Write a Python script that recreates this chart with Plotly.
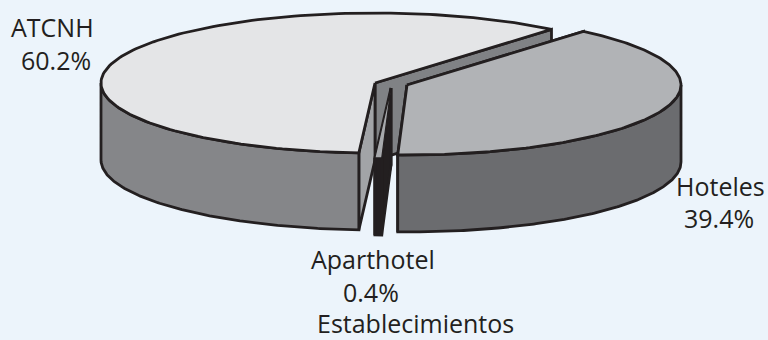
import numpy as np
import plotly.graph_objects as go

# shares of each slice, in drawing order round the pie
categories = ["ATCNH", "Aparthotel", "Hoteles"]
shares = [60.2, 0.4, 39.4]
x_title = "Establecimientos"

# pie geometry, in page pixels
RX, RY, DEPTH = 274, 70, 77
START = 49.9
centers = {"ATCNH": (375, 83), "Aparthotel": (391, 88), "Hoteles": (407, 85)}
top_colors = {"ATCNH": "#e4e5e7", "Aparthotel": "#a7a9ac", "Hoteles": "#b1b3b6"}
side_colors = {"ATCNH": "#858689", "Aparthotel": "#231f20", "Hoteles": "#6b6c6f"}
INK = "#231f20"

fig = go.Figure()


def poly(xs, ys, color, width=2.8):
    fig.add_trace(go.Scatter(x=xs, y=ys, mode="lines", fill="toself", fillcolor=color,
                             line=dict(color=INK, width=width), hoverinfo="skip",
                             showlegend=False))


def rim(name, a0, a1):
    cx, cy = centers[name]
    t = np.radians(np.linspace(a0, a1, 160))
    return cx + RX * np.cos(t), cy - RY * np.sin(t)


def draw_slice(name, a0, a1):
    cx, cy = centers[name]
    ex, ey = rim(name, a0, a1)
    # the two cut faces come first, the rim wall and lid go on top
    for a in (a0, a1):
        px, py = rim(name, a, a)
        face = "#808285" if a == a0 else "#a2a4a7"
        if name == "Aparthotel":
            face = side_colors[name]
        poly([cx, px[0], px[0], cx, cx],
             [cy, py[0], py[0] + DEPTH, cy + DEPTH, cy], face)
    # wall only where the rim faces the viewer (180 to 360 degrees)
    lo, hi = max(a0, 180), min(a1, 360)
    if hi > lo:
        wx, wy = rim(name, lo, hi)
        poly(list(wx) + list(wx[::-1]) + [wx[0]],
             list(wy) + list(wy[::-1] + DEPTH) + [wy[0]], side_colors[name])
    poly([cx] + list(ex) + [cx], [cy] + list(ey) + [cy], top_colors[name],
         1.2 if name == "Aparthotel" else 2.8)


angle = START
for name, share in zip(categories, shares):
    sweep = share * 3.6
    draw_slice(name, angle, angle + sweep)
    angle += sweep

labels = [
    (categories[0], 52, 27), (f"{shares[0]}%", 56, 60),
    (categories[1], 373, 259), (f"{shares[1]}%", 371, 292),
    (categories[2], 720, 186), (f"{shares[2]}%", 719, 218),
    (x_title, 415, 323),
]
for text, x, y in labels:
    fig.add_annotation(x=x, y=y, text=text, showarrow=False, xanchor="center", yanchor="middle",
                       font=dict(family="Open Sans", size=25, color=INK))

fig.update_layout(
    width=768, height=340, margin=dict(l=0, r=0, t=0, b=0),
    paper_bgcolor="#ecf4fb", plot_bgcolor="#ecf4fb", showlegend=False,
    xaxis=dict(range=[0, 768], visible=False, fixedrange=True),
    yaxis=dict(range=[340, 0], visible=False, fixedrange=True),
)
fig.write_html("out.html", config={"displayModeBar": False},
               post_script="document.body.style.margin='0';")
